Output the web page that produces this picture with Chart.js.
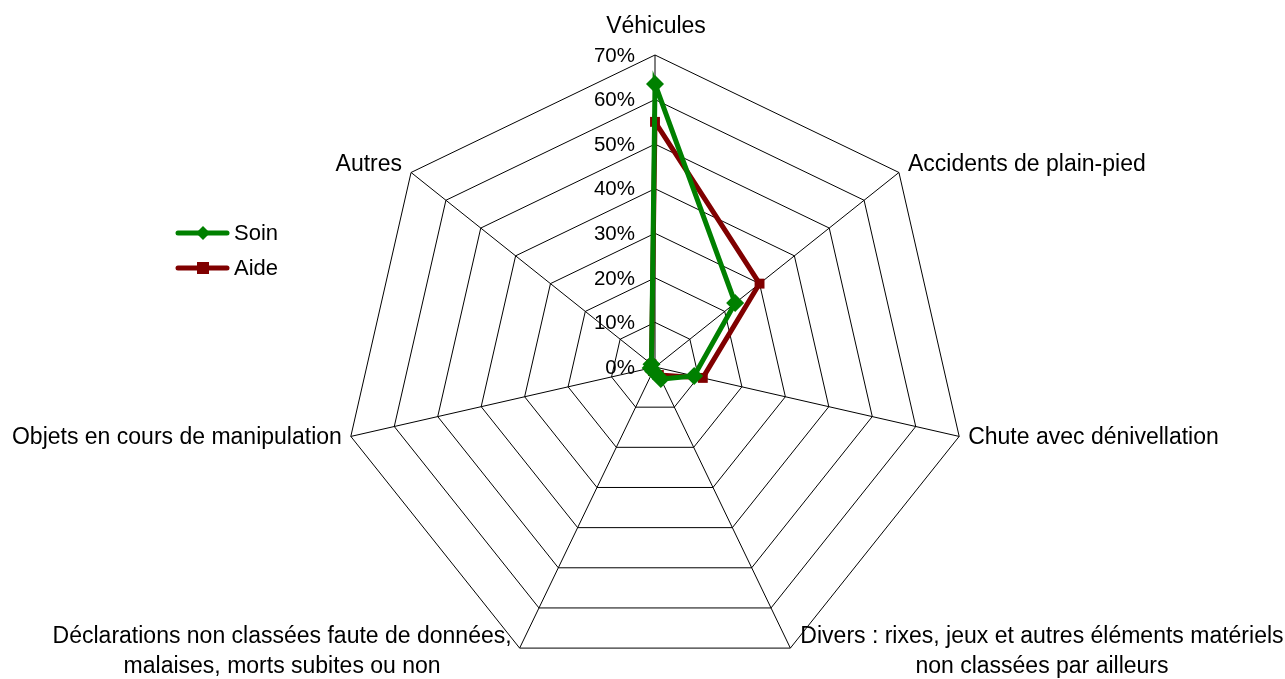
<!DOCTYPE html>
<html>
<head>
<meta charset="utf-8">
<script src="https://cdn.jsdelivr.net/npm/chart.js@4.4.0/dist/chart.umd.min.js"></script>
<style>
  html, body { margin: 0; padding: 0; background: #fff; }
  #wrap { width: 1285px; height: 679px; }
</style>
</head>
<body>
<div id="wrap"><canvas id="radar" width="1285" height="679"></canvas></div>
<script>
// categories (each entry = lines of the label)
const categories = [
    ['Véhicules'],
    ['Accidents de plain-pied'],
    ['Chute avec dénivellation'],
    ['Divers : rixes, jeux et autres éléments matériels', 'non classées par ailleurs'],
    ['Déclarations non classées faute de données,', 'malaises, morts subites ou non'],
    ['Objets en cours de manipulation'],
    ['Autres']
];
const soin = [63.5, 23, 9, 3, 1, 1, 1];
const aide = [55, 30, 11, 2, 1, 1, 1];
const tickValues = [0, 10, 20, 30, 40, 50, 60, 70];

const FONT = 'Arial, "Liberation Sans", sans-serif';

// point labels, tick labels and legend drawn by hand, Excel style
const excelDecor = {
    id: 'excelDecor',
    afterDraw(chart) {
        const scale = chart.scales.r;
        const ctx = chart.ctx;
        const cx = scale.xCenter, cy = scale.yCenter;
        ctx.save();
        ctx.fillStyle = '#000';

        // tick labels
        ctx.font = '20.5px ' + FONT;
        ctx.textAlign = 'right';
        ctx.textBaseline = 'middle';
        tickValues.forEach(v => {
            const d = scale.getDistanceFromCenterForValue(v);
            ctx.fillText(v + '%', cx - 20, cy - d + 1);
        });

        // category labels
        ctx.font = '23px ' + FONT;
        categories.forEach((lines, i) => {
            const p = scale.getPointPosition(i, scale.drawingArea);
            if (i === 0) {
                ctx.textAlign = 'center';
                ctx.fillText(lines[0], p.x + 1, p.y - 28);
            } else if (i === 1 || i === 2) {
                ctx.textAlign = 'left';
                ctx.fillText(lines[0], p.x + 9, p.y + (i === 1 ? -8 : 1));
            } else if (i === 5 || i === 6) {
                ctx.textAlign = 'right';
                ctx.fillText(lines[0], p.x - 9, p.y + (i === 6 ? -8 : 1));
            } else {
                const w = ctx.measureText(lines[0]).width;
                const left = i === 3 ? p.x + 10 : p.x - 8 - w;
                ctx.textAlign = 'center';
                ctx.fillText(lines[0], left + w / 2, p.y - 11);
                ctx.fillText(lines[1], left + w / 2, p.y + 19);
            }
        });

        // legend
        const items = [
            { label: 'Soin', color: '#008000', y: 233, shape: 'diamond' },
            { label: 'Aide', color: '#800000', y: 268, shape: 'square' }
        ];
        items.forEach(it => {
            ctx.strokeStyle = it.color;
            ctx.fillStyle = it.color;
            ctx.lineWidth = 5;
            ctx.lineCap = 'round';
            ctx.beginPath();
            ctx.moveTo(178, it.y);
            ctx.lineTo(227, it.y);
            ctx.stroke();
            ctx.beginPath();
            if (it.shape === 'diamond') {
                ctx.moveTo(203, it.y - 7);
                ctx.lineTo(210, it.y);
                ctx.lineTo(203, it.y + 7);
                ctx.lineTo(196, it.y);
            } else {
                ctx.rect(197, it.y - 6, 12, 12);
            }
            ctx.fill();
            ctx.fillStyle = '#000';
            ctx.font = '22px ' + FONT;
            ctx.textAlign = 'left';
            ctx.fillText(it.label, 234, it.y + 1);
        });
        ctx.restore();
    }
};

new Chart(document.getElementById('radar'), {
    type: 'radar',
    data: {
        labels: categories,
        datasets: [
            {
                label: 'Soin',
                data: soin,
                borderColor: '#008000',
                backgroundColor: '#008000',
                borderWidth: 5,
                fill: false,
                pointStyle: 'rectRot',
                pointRadius: 9,
                pointBackgroundColor: '#008000',
                pointBorderWidth: 0,
                tension: 0
            },
            {
                label: 'Aide',
                data: aide,
                borderColor: '#800000',
                backgroundColor: '#800000',
                borderWidth: 5,
                fill: false,
                pointStyle: 'rect',
                pointRadius: 7,
                pointBackgroundColor: '#800000',
                pointBorderWidth: 0,
                tension: 0
            }
        ]
    },
    options: {
        responsive: false,
        animation: false,
        layout: { padding: { top: 55, left: 25, right: 0, bottom: 0 } },
        plugins: {
            legend: { display: false },
            tooltip: { enabled: false }
        },
        scales: {
            r: {
                min: 0,
                max: 70,
                ticks: { stepSize: 10, display: false, showLabelBackdrop: false },
                grid: { color: '#000', lineWidth: 1, circular: false },
                angleLines: { color: '#000', lineWidth: 1 },
                pointLabels: { display: false }
            }
        }
    },
    plugins: [excelDecor]
});
</script>
</body>
</html>
